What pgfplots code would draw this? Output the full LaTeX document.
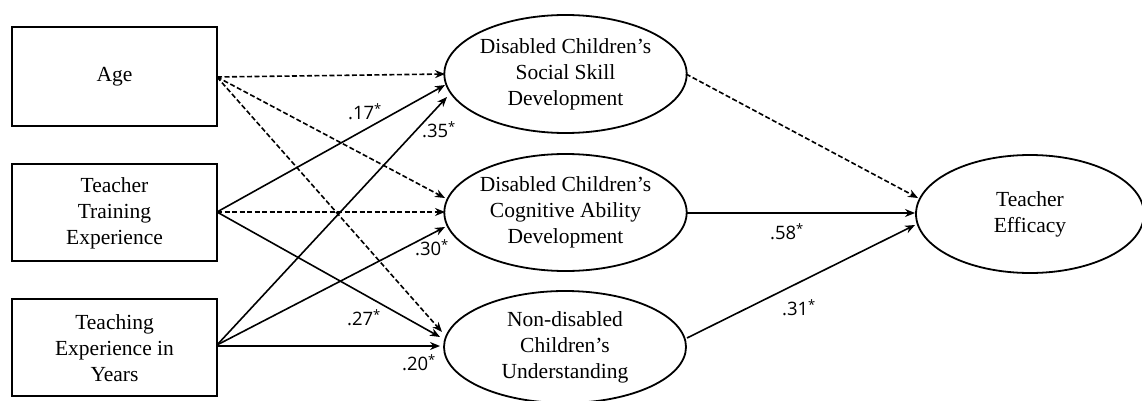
\documentclass[border=0pt]{standalone}
\usepackage{pgfplots}
\pgfplotsset{compat=1.18}
\usepackage{fontspec}
\setmainfont{Liberation Serif}
\newfontfamily\tms{Liberation Serif}
\newfontfamily\lab{Open Sans}
\usetikzlibrary{arrows.meta,shapes.geometric}
\tikzset{
  sol/.style={black, line width=1.6pt, -{Stealth[length=10pt,width=8pt]}},
  das/.style={black, line width=1.6pt, dash pattern=on 5pt off 2.5pt, -{Stealth[length=10pt,width=8pt]}},
  box/.style={black, line width=2pt, line join=miter},
  ell/.style={draw, ellipse, line width=1.8pt, inner sep=0pt, align=center, font=\tms\fontsize{21.5}{26}\selectfont},
  txt/.style={align=center, font=\tms\fontsize{21.5}{26}\selectfont},
  coef/.style={font=\lab\fontsize{18.5}{20}\selectfont, inner sep=0pt}
}
\begin{document}
\begin{tikzpicture}
\begin{axis}[scale only axis, width=1142pt, height=401pt,
  xmin=0, xmax=1142, ymin=0, ymax=401, y dir=reverse, hide axis]
% boxes
\addplot[box] coordinates {(12,27) (217,27) (217,126) (12,126)} -- cycle;
\addplot[box] coordinates {(12,164) (217,164) (217,261) (12,261)} -- cycle;
\addplot[box] coordinates {(12,299) (217,299) (217,396) (12,396)} -- cycle;
% paths from Age
\addplot[das] coordinates {(217,77) (445,74)};
\addplot[das] coordinates {(217,77) (445,198)};
\addplot[das] coordinates {(217,77) (442,332)};
% paths from Teacher Training Experience
\addplot[sol] coordinates {(217,212) (445,85)};
\addplot[das] coordinates {(217,212) (445,212)};
\addplot[sol] coordinates {(217,212) (440,337)};
% paths from Teaching Experience in Years
\addplot[sol] coordinates {(217,345) (447,97)};
\addplot[sol] coordinates {(217,345) (445,227)};
\addplot[sol, line width=2.2pt] coordinates {(217,346) (440,346)};
% paths to Teacher Efficacy
\addplot[das] coordinates {(686,74) (918,198)};
\addplot[sol] coordinates {(686,213) (915,213)};
\addplot[sol] coordinates {(687,338) (915,225)};
% box texts
\node[txt] at (axis cs:114.5,77) {Age};
\node[txt] at (axis cs:114.5,213) {Teacher\\Training\\Experience};
\node[txt] at (axis cs:114.5,348) {Teaching\\Experience in\\Years};
% ellipses
\node[ell, minimum width=241pt, minimum height=118pt] at (axis cs:565.5,74) {Disabled Children’s\\Social Skill\\Development};
\node[ell, minimum width=241pt, minimum height=117pt] at (axis cs:565.5,212.5) {Disabled Children’s\\Cognitive Ability\\Development};
\node[ell, minimum width=242pt, minimum height=112pt] at (axis cs:565,347) {Non-disabled\\Children’s\\Understanding};
\node[ell, minimum width=228pt, minimum height=118pt] at (axis cs:1030,214) {Teacher\\Efficacy};
% coefficients
\node[coef] at (axis cs:365,112) {.17\textsuperscript{*}};
\node[coef] at (axis cs:439,130) {.35\textsuperscript{*}};
\node[coef] at (axis cs:432,248) {.30\textsuperscript{*}};
\node[coef] at (axis cs:364,318) {.27\textsuperscript{*}};
\node[coef] at (axis cs:419,363) {.20\textsuperscript{*}};
\node[coef] at (axis cs:787,232) {.58\textsuperscript{*}};
\node[coef] at (axis cs:799,308) {.31\textsuperscript{*}};
\end{axis}
\pgfresetboundingbox
\path (0,0) rectangle (1142pt,401pt);
\end{tikzpicture}
\end{document}
